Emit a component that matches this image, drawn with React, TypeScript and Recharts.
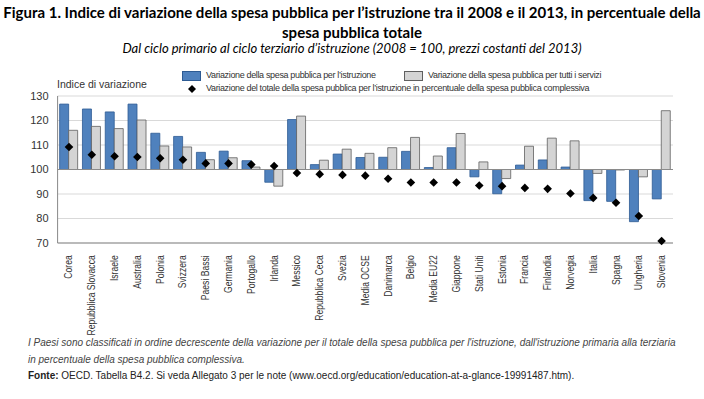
import React from "react";
import {
  ComposedChart,
  Bar,
  Scatter,
  XAxis,
  YAxis,
  CartesianGrid,
  ReferenceLine,
} from "recharts";

const countries = [
  "Corea", "Repubblica Slovacca", "Israele", "Australia", "Polonia", "Svizzera",
  "Paesi Bassi", "Germania", "Portogallo", "Irlanda", "Messico", "Repubblica Ceca",
  "Svezia", "Media OCSE", "Danimarca", "Belgio", "Media EU22", "Giappone",
  "Stati Uniti", "Estonia", "Francia", "Finlandia", "Norvegia", "Italia",
  "Spagna", "Ungheria", "Slovenia",
];

const istruzione = [
  126.7, 124.7, 123.5, 126.7, 114.8, 113.5, 107.0, 107.5, 103.6, 94.8, 120.4, 102.0,
  106.3, 104.9, 105.0, 107.4, 100.8, 108.9, 97.0, 90.1, 101.8, 103.9, 101.0, 87.3,
  87.0, 78.7, 88.0,
];

const tuttiServizi = [
  116.0, 117.6, 116.7, 120.2, 109.6, 109.2, 104.0, 104.8, 101.0, 93.2, 121.8, 103.8,
  108.3, 106.6, 108.9, 113.1, 105.5, 114.7, 103.1, 96.3, 109.5, 112.8, 111.7, 98.4,
  99.8, 97.0, 124.0,
];

const quotaTotale = [
  109.2, 106.0, 105.4, 105.1, 104.6, 104.0, 102.5, 102.5, 102.0, 101.4, 98.6, 98.1,
  97.8, 97.5, 96.2, 94.7, 94.7, 94.7, 93.5, 93.2, 92.5, 92.1, 90.2, 88.4,
  86.4, 81.0, 70.8,
];

const yTicks = [70, 80, 90, 100, 110, 120, 130];

const BASE = 100;
const BLUE = "#4f81bd";
const BLUE_EDGE = "#2d5b93";
const GREY = "#d4d4d4";
const GREY_EDGE = "#5f5f5f";

const data = countries.map((name, i) => ({
  name,
  istruzione: [BASE, istruzione[i]],
  servizi: [BASE, tuttiServizi[i]],
  quota: quotaTotale[i],
}));

const chartFont = "'Liberation Sans', Arial, sans-serif";

function Diamond(props: any) {
  const { cx, cy } = props;
  if (cx == null || cy == null) return null;
  const r = 4.3;
  return (
    <path
      d={`M${cx},${cy - r}L${cx + r},${cy}L${cx},${cy + r}L${cx - r},${cy}Z`}
      fill="#000"
    />
  );
}

// rotated category label, squeezed along its length like the original's narrow font
function CountryTick(props: any) {
  const { x, y, payload } = props;
  return (
    <text
      transform={`translate(${x}, ${y}) rotate(-90) scale(0.86, 1)`}
      textAnchor="end"
      dy={3.5}
      dx={-5}
      fontSize={10}
      fontFamily={chartFont}
      fill="#333"
    >
      {payload.value}
    </text>
  );
}

const legendText = {
  fontFamily: chartFont,
  fontSize: 9,
  letterSpacing: -0.35,
  color: "#333",
};

export default function App() {
  return (
    <div
      style={{
        position: "absolute",
        left: 0,
        top: 0,
        width: 704,
        height: 399,
        background: "#fff",
        overflow: "hidden",
      }}
    >
      <div
        style={{
          position: "absolute",
          left: 0,
          top: 2,
          width: 704,
          textAlign: "center",
          fontFamily: "Lato, sans-serif",
          fontWeight: 700,
          fontSize: 15,
          lineHeight: "20px",
          color: "#000",
        }}
      >
        Figura 1. Indice di variazione della spesa pubblica per l’istruzione tra il 2008 e il 2013, in percentuale della
        <br />
        spesa pubblica totale
      </div>
      <div
        style={{
          position: "absolute",
          left: 0,
          top: 40,
          width: 704,
          textAlign: "center",
          fontFamily: "Lato, sans-serif",
          fontStyle: "italic",
          fontSize: 13,
          color: "#000",
        }}
      >
        Dal ciclo primario al ciclo terziario d’istruzione (2008 = 100, prezzi costanti del 2013)
      </div>

      <div
        style={{
          position: "absolute",
          left: 57,
          top: 78,
          fontFamily: chartFont,
          fontSize: 10.5,
          color: "#333",
        }}
      >
        Indice di variazione
      </div>

      <div
        style={{
          position: "absolute",
          left: 182,
          top: 69,
          lineHeight: "13px",
          ...legendText,
        }}
      >
        <div style={{ display: "flex", alignItems: "center" }}>
          <span
            style={{
              display: "inline-block",
              width: 17,
              height: 8,
              background: BLUE,
              border: `1px solid ${BLUE_EDGE}`,
              marginRight: 5,
            }}
          />
          <span style={{ width: 198 }}>Variazione della spesa pubblica per l’istruzione</span>
          <span
            style={{
              display: "inline-block",
              width: 17,
              height: 8,
              background: GREY,
              border: `1px solid ${GREY_EDGE}`,
              marginRight: 5,
            }}
          />
          <span>Variazione della spesa pubblica per tutti i servizi</span>
        </div>
        <div style={{ display: "flex", alignItems: "center" }}>
          <svg width={19} height={10} style={{ marginRight: 5 }}>
            <path d="M10,1L14,5L10,9L6,5Z" fill="#000" />
          </svg>
          <span>
            Variazione del totale della spesa pubblica per l’istruzione in percentuale della spesa pubblica complessiva
          </span>
        </div>
      </div>

      <div style={{ position: "absolute", left: 0, top: 60 }}>
        <ComposedChart
          width={704}
          height={290}
          data={data}
          margin={{ top: 36, right: 31, left: 0, bottom: 0 }}
          barCategoryGap="9%"
          barGap={0}
        >
          <CartesianGrid vertical={false} stroke="#d9d9d9" />
          <XAxis
            dataKey="name"
            interval={0}
            tick={<CountryTick />}
            tickLine={false}
            axisLine={{ stroke: "#888" }}
            height={107}
          />
          <XAxis
            xAxisId="top"
            dataKey="name"
            orientation="top"
            tick={false}
            tickLine={false}
            axisLine={{ stroke: "#888" }}
            height={0}
          />
          <YAxis
            domain={[70, 130]}
            ticks={yTicks}
            interval={0}
            tickLine={false}
            tickSize={0}
            tickMargin={9}
            axisLine={{ stroke: "#888" }}
            width={57.6}
            tick={{ fontSize: 11, fontFamily: chartFont, fill: "#333" }}
          />
          <YAxis
            yAxisId="right"
            orientation="right"
            domain={[70, 130]}
            tick={false}
            tickLine={false}
            axisLine={{ stroke: "#888" }}
            width={0}
          />
          <ReferenceLine y={BASE} stroke="#8a8a8a" />
          <Bar
            dataKey="istruzione"
            fill={BLUE}
            stroke={BLUE_EDGE}
            strokeWidth={0.8}
            isAnimationActive={false}
          />
          <Bar
            dataKey="servizi"
            fill={GREY}
            stroke={GREY_EDGE}
            strokeWidth={0.8}
            isAnimationActive={false}
          />
          <Scatter dataKey="quota" shape={<Diamond />} isAnimationActive={false} />
        </ComposedChart>
      </div>

      <div
        style={{
          position: "absolute",
          left: 28,
          top: 334,
          fontFamily: chartFont,
          fontSize: 10,
          fontStyle: "italic",
          color: "#444",
          lineHeight: "17px",
        }}
      >
        I Paesi sono classificati in ordine decrescente della variazione per il totale della spesa pubblica per l'istruzione, dall'istruzione primaria alla terziaria
        <br />
        in percentuale della spesa pubblica complessiva.
      </div>
      <div
        style={{
          position: "absolute",
          left: 28,
          top: 370,
          fontFamily: chartFont,
          fontSize: 10,
          color: "#222",
        }}
      >
        <b>Fonte:</b> OECD. Tabella B4.2. Si veda Allegato 3 per le note (www.oecd.org/education/education-at-a-glance-19991487.htm).
      </div>
    </div>
  );
}
